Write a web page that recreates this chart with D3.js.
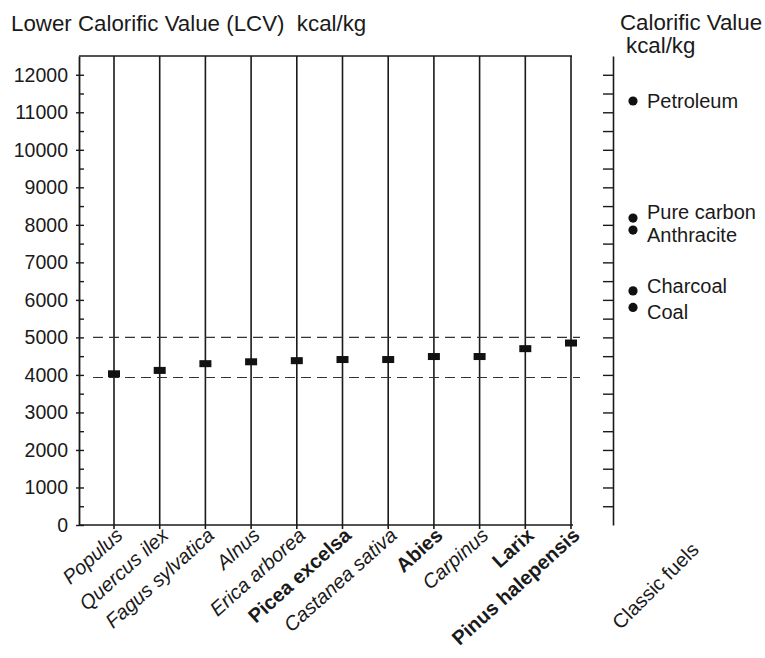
<!DOCTYPE html>
<html><head><meta charset="utf-8">
<script src="https://cdn.jsdelivr.net/npm/d3@7"></script>
<style>
body{margin:0;background:#fff;}
text{font-family:"Liberation Sans",Arial,sans-serif;fill:#1a1a1a;white-space:pre;}
</style></head>
<body><svg id="c" width="765" height="658"></svg>
<script>
const species = ["Populus","Quercus ilex","Fagus sylvatica","Alnus","Erica arborea","Picea excelsa","Castanea sativa","Abies","Carpinus","Larix","Pinus halepensis"];
const lcv = [4030,4120,4300,4350,4380,4410,4410,4490,4490,4700,4850];
const boldSpecies = ["Picea excelsa","Abies","Larix","Pinus halepensis"];
const fuels = ["Petroleum","Pure carbon","Anthracite","Charcoal","Coal"];
const fuelValues = [11300,8180,7860,6240,5800];
const rangeBand = [3930,5000];
const majorTicks = [0,1000,2000,3000,4000,5000,6000,7000,8000,9000,10000,11000,12000];
const minorTicks = [500,1500,2500,3500,4500,5500,6500,7500,8500,9500,10500,11500];
const titleLeft = "Lower Calorific Value (LCV)  kcal/kg";
const titleRight = ["Calorific Value","kcal/kg"];
const rightCategory = "Classic fuels";

const svg = d3.select("#c");
const y = d3.scaleLinear().domain([0,12500]).range([525,56]);
const x = d3.scalePoint().domain(species).range([114,571]);
const axisX = 79, rightAxisX = 613, dotX = 633;
const ink = "#1a1a1a";

// titles
svg.append("text").attr("x",11).attr("y",31).attr("font-size",22.3).attr("xml:space","preserve").text(titleLeft);
svg.append("text").attr("x",620).attr("y",30).attr("font-size",22.3).text(titleRight[0]);
svg.append("text").attr("x",626).attr("y",53).attr("font-size",22.3).text(titleRight[1]);

// vertical category lines
svg.append("g").selectAll("line").data(species).join("line")
  .attr("x1",d=>x(d)).attr("x2",d=>x(d)).attr("y1",y(12500)).attr("y2",y(0)+4)
  .attr("stroke",ink).attr("stroke-width",1.6);

// top line & baseline
svg.append("line").attr("x1",axisX).attr("x2",x(species[species.length-1])+1).attr("y1",y(12500)).attr("y2",y(12500)).attr("stroke",ink).attr("stroke-width",1.6);
svg.append("line").attr("x1",axisX).attr("x2",x(species[species.length-1])+2).attr("y1",y(0)).attr("y2",y(0)).attr("stroke",ink).attr("stroke-width",1.6);

// left axis
const gl = svg.append("g").attr("transform",`translate(${axisX},0)`)
  .call(d3.axisLeft(y).tickValues(majorTicks).tickSize(3).tickSizeOuter(0).tickPadding(8).tickFormat(d3.format("d")));
gl.select(".domain").attr("stroke",ink).attr("stroke-width",1.8);
gl.selectAll(".tick line").attr("stroke",ink).attr("stroke-width",1.4);
gl.selectAll(".tick text").attr("font-size",19.5).attr("font-family","Liberation Sans, Arial, sans-serif").attr("fill",ink);
const gl2 = svg.append("g").attr("transform",`translate(${axisX},0)`)
  .call(d3.axisRight(y).tickValues(majorTicks.concat(minorTicks)).tickSize(5).tickSizeOuter(0).tickFormat(""));
gl2.select(".domain").remove();
gl2.selectAll(".tick line").attr("stroke",ink).attr("stroke-width",1.4);

// right axis
const gr = svg.append("g").attr("transform",`translate(${rightAxisX},0)`)
  .call(d3.axisLeft(y).tickValues(majorTicks.slice(1).concat(minorTicks)).tickSize(10).tickSizeOuter(0).tickFormat(""));
gr.select(".domain").attr("stroke",ink).attr("stroke-width",1.6);
gr.selectAll(".tick line").attr("stroke",ink).attr("stroke-width",1.4);

// dashed reference lines
svg.append("g").selectAll("line").data(rangeBand).join("line")
  .attr("x1",93).attr("x2",580).attr("y1",d=>y(d)).attr("y2",d=>y(d))
  .attr("stroke","#333").attr("stroke-width",1.1).attr("stroke-dasharray","10,6");

// markers
svg.append("g").selectAll("rect").data(species).join("rect")
  .attr("x",d=>x(d)-6).attr("y",(d,i)=>y(lcv[i])-3.5).attr("width",12).attr("height",7)
  .attr("fill","#111");

// category labels
svg.append("g").selectAll("text").data(species).join("text")
  .attr("transform",d=>`translate(${x(d)+10},${y(0)+12}) rotate(-42)`)
  .attr("text-anchor","end").attr("font-size",20)
  .attr("font-weight",d=>boldSpecies.includes(d)?"bold":"normal")
  .attr("font-style",d=>boldSpecies.includes(d)?"normal":"italic")
  .text(d=>d);

// classic fuels
svg.append("g").selectAll("circle").data(fuels).join("circle")
  .attr("cx",dotX).attr("cy",(d,i)=>y(fuelValues[i])).attr("r",4.6).attr("fill","#111");
const labelShift = {"Petroleum":0,"Pure carbon":-6,"Anthracite":5,"Charcoal":-5,"Coal":4.5};
svg.append("g").selectAll("text").data(fuels).join("text")
  .attr("x",dotX+14).attr("y",(d,i)=>y(fuelValues[i])+labelShift[d]).attr("dy","0.35em")
  .attr("font-size",20).text(d=>d);

svg.append("text").attr("transform",`translate(700,551) rotate(-45)`).attr("text-anchor","end")
  .attr("font-size",20).text(rightCategory);
</script></body></html>
